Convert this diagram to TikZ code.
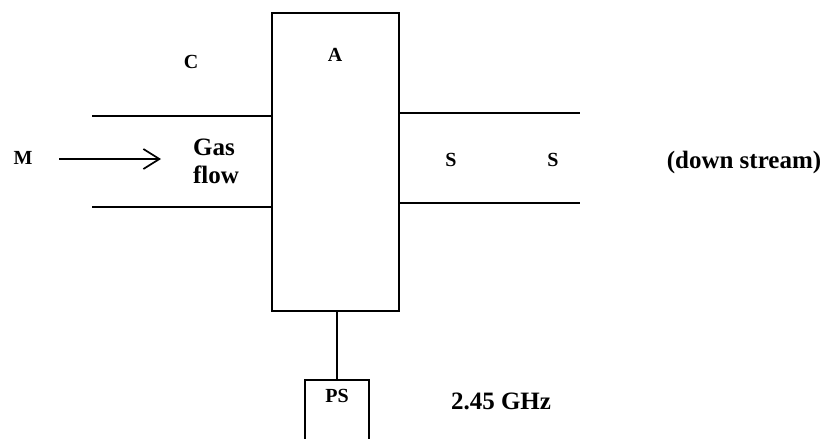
\documentclass[tikz,border=0pt]{standalone}
\usepackage{fontspec}
\setmainfont{Liberation Serif}
\usetikzlibrary{arrows.meta,calc}

\tikzset{
  lbl/.style={font=\fontsize{20}{22}\selectfont\bfseries,inner sep=0},
  biglbl/.style={font=\fontsize{25}{28}\selectfont\bfseries,inner sep=0,align=left},
  unit/.style={draw,line width=1.7pt,inner sep=0}
}

\begin{document}
\begin{tikzpicture}[x=1pt,y=-1pt,line width=1.7pt,>={Straight Barb[length=16pt,width=20pt]}]
\useasboundingbox (0,0) rectangle (830,439);
% ---------- applicator and power supply ----------
\node[unit,minimum width=127,minimum height=298] (appl) at (335.5,162) {};
\node[lbl] (alab) at (335,55) {A};
\node[unit,minimum width=64,minimum height=90,anchor=north] (ps) at (337,379) {};
\node[lbl] (pslab) at (337,396) {PS};
\draw (appl.south -| ps.north) -- (ps.north);
\node[biglbl] (freq) at (501,401) {2.45 GHz};
% ---------- upstream tube ----------
\coordinate (lt) at (92,116);
\coordinate (lb) at (92,207);
\draw (lt) -- (lt -| appl.west);
\draw (lb) -- (lb -| appl.west);
\node[lbl] (clab) at (191,62) {C};
\node[lbl] (mlab) at (23,158) {M};
\coordinate (fs) at (59,159);
\coordinate (fe) at (161,159);
\draw[->] (fs) -- (fe);
\node[biglbl] (gas) at (216,161) {Gas\\flow};
% ---------- downstream tube ----------
\coordinate (rt) at (580,113);
\coordinate (rb) at (580,203);
\draw (appl.east |- rt) -- (rt);
\draw (appl.east |- rb) -- (rb);
\node[lbl] (s1) at (451,160) {S};
\node[lbl] (s2) at (553,160) {S};
\node[biglbl] (down) at (744,162) {(down stream)};
\end{tikzpicture}
\end{document}
